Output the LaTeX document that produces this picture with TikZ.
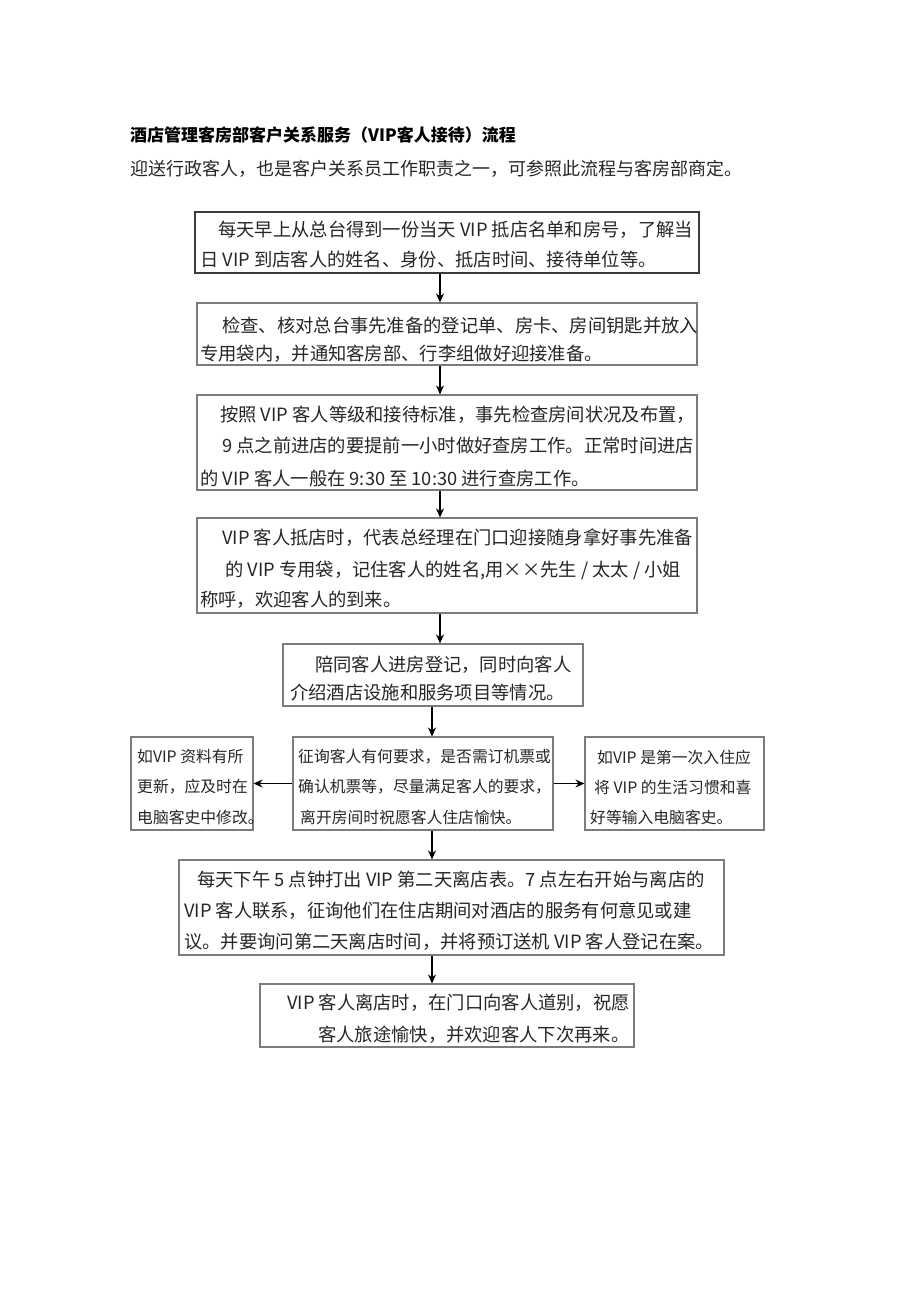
\documentclass[tikz,border=0pt]{standalone}
\usepackage{fontspec}
\newfontfamily\cjk{Noto Sans CJK SC}
\usetikzlibrary{arrows.meta}
\definecolor{txt}{HTML}{262626}
\definecolor{boxgray}{HTML}{7C7C7C}
\definecolor{boxdark}{HTML}{3C3C3C}
\begin{document}
\begin{tikzpicture}[x=1pt,y=-1pt,
  boxn/.style={draw=boxgray, line width=1.1pt, rectangle, inner sep=0pt},
  boxk/.style={draw=boxdark, line width=1.8pt, rectangle, inner sep=0pt},
  ln/.style={anchor=west, inner sep=0pt, text=txt, font=\cjk\fontsize{18.3}{20}\selectfont},
  sm/.style={anchor=west, inner sep=0pt, text=txt, font=\cjk\fontsize{15.8}{18}\selectfont},
  arr/.style={draw=black, line width=1.5pt, -{Stealth[length=9pt,width=8pt]}}]
\useasboundingbox[fill=white] (0,0) rectangle (920,1301);

% title
\node[anchor=west, inner sep=0pt, text=black, font=\cjk\bfseries\fontsize{17}{19}\selectfont] (title) at (130,135) {酒店管理客房部客户关系服务（VIP客人接待）流程};
\node[anchor=west, inner sep=0pt, text=txt, font=\cjk\fontsize{18}{20}\selectfont] (sub) at (130,169) {迎送行政客人，也是客户关系员工作职责之一，可参照此流程与客房部商定。};

% boxes
\node[boxk, minimum width=504pt, minimum height=61pt] (b1) at (447,242.5) {};
\node[boxn, minimum width=500pt, minimum height=62pt] (b2) at (447,334) {};
\node[boxn, minimum width=500pt, minimum height=95pt] (b3) at (447,442.5) {};
\node[boxn, minimum width=500pt, minimum height=95pt] (b4) at (447,565.5) {};
\node[boxn, minimum width=300pt, minimum height=62pt] (b5) at (433,675) {};
\node[boxn, minimum width=260pt, minimum height=93pt] (b6) at (423,783.5) {};
\node[boxn, minimum width=122pt, minimum height=93pt] (bL) at (192,783.5) {};
\node[boxn, minimum width=179pt, minimum height=93pt] (bR) at (674.5,783.5) {};
\node[boxn, minimum width=545pt, minimum height=95pt] (b7) at (451.5,907.5) {};
\node[boxn, minimum width=374pt, minimum height=63pt] (b8) at (447,1015.5) {};

% texts
\node[ln] (t1a) at (218,230) {每天早上从总台得到一份当天 VIP 抵店名单和房号，了解当};
\node[ln] (t1b) at (200,260) {日 VIP 到店客人的姓名、身份、抵店时间、接待单位等。};

\node[ln] (t2a) at (222,326) {检查、核对总台事先准备的登记单、房卡、房间钥匙并放入};
\node[ln] (t2b) at (200,354) {专用袋内，并通知客房部、行李组做好迎接准备。};

\node[ln] (t3a) at (220,415) {按照 VIP 客人等级和接待标准，事先检查房间状况及布置，};
\node[ln] (t3b) at (222,446) {9 点之前进店的要提前一小时做好查房工作。正常时间进店};
\node[ln] (t3c) at (200,478) {的 VIP 客人一般在 9:30 至 10:30 进行查房工作。};

\node[ln] (t4a) at (222,538) {VIP 客人抵店时，代表总经理在门口迎接随身拿好事先准备};
\node[ln] (t4b) at (225,570) {的 VIP 专用袋，记住客人的姓名,用××先生 / 太太 / 小姐};
\node[ln] (t4c) at (200,600) {称呼，欢迎客人的到来。};

\node[ln] (t5a) at (315,665) {陪同客人进房登记，同时向客人};
\node[ln] (t5b) at (290,693) {介绍酒店设施和服务项目等情况。};

\node[sm] (t6a) at (298,757) {征询客人有何要求，是否需订机票或};
\node[sm] (t6b) at (298,787) {确认机票等，尽量满足客人的要求，};
\node[sm] (t6c) at (300,817) {离开房间时祝愿客人住店愉快。};

\node[sm] (tLa) at (137,757) {如VIP 资料有所};
\node[sm] (tLb) at (137,787) {更新，应及时在};
\node[sm] (tLc) at (137,817) {电脑客史中修改。};

\node[sm] (tRa) at (597,757) {如VIP 是第一次入住应};
\node[sm] (tRb) at (594,787) {将 VIP 的生活习惯和喜};
\node[sm] (tRc) at (590,817) {好等输入电脑客史。};

\node[ln] (t7a) at (197,880) {每天下午 5 点钟打出 VIP 第二天离店表。7 点左右开始与离店的};
\node[ln] (t7b) at (184,911) {VIP 客人联系，征询他们在住店期间对酒店的服务有何意见或建};
\node[ln] (t7c) at (184,942) {议。并要询问第二天离店时间，并将预订送机 VIP 客人登记在案。};

\node[ln] (t8a) at (287,1003) {VIP 客人离店时，在门口向客人道别，祝愿};
\node[ln] (t8b) at (318,1035) {客人旅途愉快，并欢迎客人下次再来。};

% connectors
\coordinate (xa) at (440,0);
\coordinate (xb) at (432,0);
\draw[arr] (b1.south -| xa) -- (b2.north -| xa);
\draw[arr] (b2.south -| xa) -- (b3.north -| xa);
\draw[arr] (b3.south -| xa) -- (b4.north -| xa);
\draw[arr] (b4.south -| xa) -- (b5.north -| xa);
\draw[arr] (b5.south -| xb) -- (b6.north -| xb);
\draw[arr] (b6.west) -- (bL.east);
\draw[arr] (b6.east) -- (bR.west);
\draw[arr] (b6.south -| xb) -- (b7.north -| xb);
\draw[arr] (b7.south -| xb) -- (b8.north -| xb);
\end{tikzpicture}
\end{document}
